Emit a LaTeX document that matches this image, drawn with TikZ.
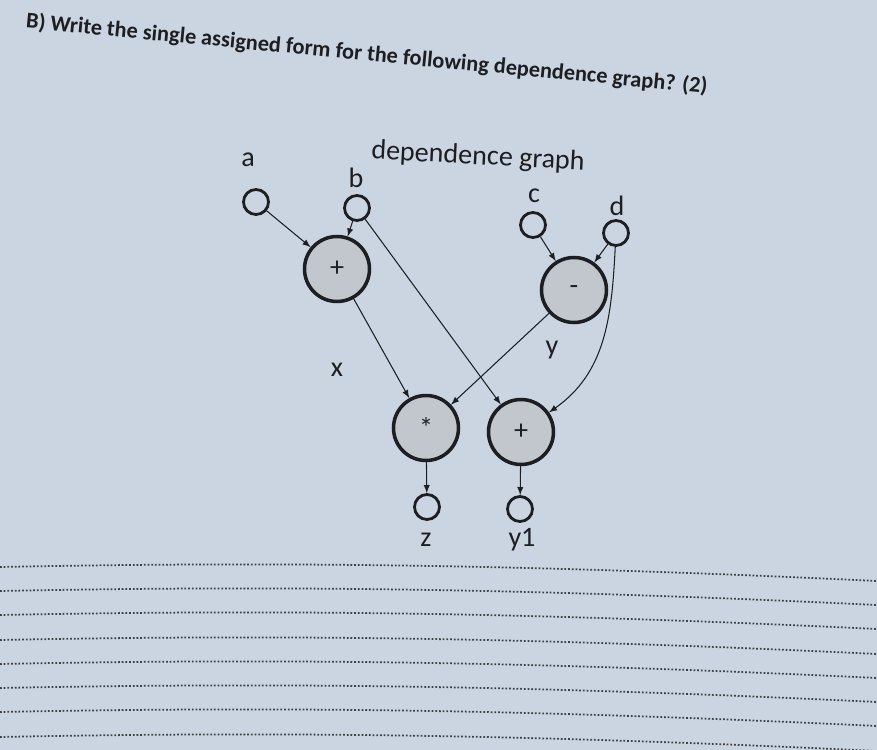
\documentclass[tikz,border=0pt]{standalone}
\usepackage{fontspec}
\setmainfont{Carlito}
\usetikzlibrary{arrows}

\definecolor{paper}{RGB}{203,213,225}
\definecolor{ink}{RGB}{28,30,34}
\definecolor{opfill}{RGB}{194,199,205}

\begin{document}
\begin{tikzpicture}[ x = 0.02cm, y = -0.02cm ]
    \tikzset{var/.style={circle, draw=ink, line width=1.6pt, minimum size=0.5cm, inner sep=0pt},
             op/.style={circle, draw=ink, line width=2pt, fill=opfill, minimum size=1.3cm,
                        inner sep=0pt, text=ink, font=\fontsize{16}{18}\selectfont},
             lbl/.style={text=ink, font=\fontsize{16}{18}\selectfont},
             dep/.style={draw=ink, line width=0.6pt, -latex}}

    \fill[paper] (0,0) rectangle (877,750);
    \useasboundingbox (0,0) rectangle (877,750);

    % question and answer lines
    \node[anchor=west, rotate=-5.5, text=ink, font=\bfseries\fontsize{12.7}{14}\selectfont]
        (question) at (20,21) {B) Write the single assigned form for the following dependence graph? (2)};
    \foreach \yy in {567,591,615,640,664,688,712,737}
        \draw[ink!85, line width=1pt, dash pattern=on 1pt off 1.1pt]
            (0,\yy) .. controls (250,\yy-5) and (500,\yy-4) .. (877,\yy+14);

    \node[lbl, rotate=-3] (title) at (478,157) {dependence graph};

    % inputs
    \node[var] (a) at (256,202) {};
    \node[var] (b) at (357,208) {};
    \node[var] (c) at (533,225) {};
    \node[var] (d) at (616,233) {};
    \node[lbl] (la) at (248,160) {a};
    \node[lbl] (lb) at (356,178) {b};
    \node[lbl] (lc) at (534,196) {c};
    \node[lbl] (ld) at (617,206) {d};

    % operations
    \node[op] (plus)    at (337,269) {+};
    \node[op] (minus)   at (574,290) {-};
    \node[op] (times)   at (426,428) {*};
    \node[op] (plustwo) at (521,432) {+};

    % outputs
    \node[var] (z)  at (427,507) {};
    \node[var] (yone) at (520,509) {};
    \node[lbl] (lz) at (426,540) {z};
    \node[lbl] (lyone) at (522,540) {y1};
    \node[lbl] (lx) at (337,370) {x};
    \node[lbl] (ly) at (552,350) {y};

    \draw[dep] (a) -- (plus);
    \draw[dep] (b) -- (plus);
    \draw[dep] (c) -- (minus);
    \draw[dep] (d) -- (minus);
    \draw[dep] (plus) -- (times);
    \draw[dep] (minus) -- (times);
    \draw[dep] (b) -- (plustwo);
    \draw[dep] (d) to[out=-93, in=35] (plustwo);
    \draw[dep] (times) -- (z);
    \draw[dep] (plustwo) -- (yone);

\end{tikzpicture}
\end{document}
